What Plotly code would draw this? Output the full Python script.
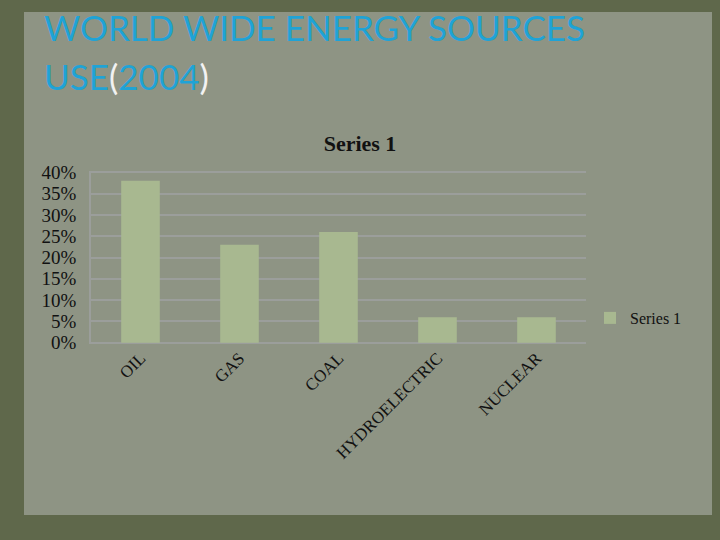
import plotly.graph_objects as go

categories = ["OIL", "GAS", "COAL", "HYDROELECTRIC", "NUCLEAR"]
values = [0.38, 0.23, 0.26, 0.06, 0.06]
series_name = "Series 1"
title_line1 = "WORLD WIDE ENERGY SOURCES"
title_line2 = "USE(2004)"
y_ticks = [0, 0.05, 0.1, 0.15, 0.2, 0.25, 0.3, 0.35, 0.4]

W, H = 720, 540
L, R, T, B = 91, 134, 171, 196
pw, ph = W - L - R, H - T - B

def px_x(x):
    return (x - L) / pw

def px_y(y):
    return (H - B - y) / ph

fig = go.Figure()
fig.add_trace(go.Bar(
    x=categories, y=values, name=series_name,
    marker=dict(color="#a8b890", line=dict(width=0)),
    width=0.39, showlegend=True,
))

serif = "Liberation Serif, DejaVu Serif, serif"

fig.update_layout(
    width=W, height=H, autosize=False,
    margin=dict(l=L, r=R, t=T, b=B, pad=0),
    paper_bgcolor="#5f684b",
    plot_bgcolor="rgba(0,0,0,0)",
    font=dict(family=serif, color="#111111"),
    title=dict(text="<b>Series 1</b>", x=0.5, xref="container", xanchor="center",
               y=1 - 143 / H, yanchor="middle",
               font=dict(family=serif, size=22, color="#111111")),
    xaxis=dict(tickangle=-45, tickfont=dict(family=serif, size=17, color="#111111"),
               showgrid=False, showline=False, ticks="", zeroline=False),
    yaxis=dict(range=[-0.003, 0.403], tickvals=y_ticks,
               tickformat=".0%",
               tickfont=dict(family=serif, size=19, color="#111111"),
               showgrid=True, gridcolor="rgba(165,165,175,0.55)", gridwidth=1.5,
               showline=True, linecolor="rgba(165,165,175,0.55)", linewidth=1.5,
               zeroline=False, ticks="", ticklabelstandoff=9),
    legend=dict(x=px_x(590), y=px_y(318), xanchor="left", yanchor="middle",
                font=dict(family=serif, size=16, color="#111111"),
                bgcolor="rgba(0,0,0,0)", itemwidth=30),
    bargap=0.6,
)

# inner lighter paper
fig.add_shape(type="rect", xref="paper", yref="paper",
              x0=px_x(24), x1=px_x(712), y0=px_y(515), y1=px_y(12),
              fillcolor="#8e9484", line=dict(width=0), layer="below")

title_font = dict(family="Lato, Open Sans, sans-serif", size=35, color="#1fa3d6")
fig.add_annotation(
    xref="paper", yref="paper", x=px_x(42), y=px_y(4), xanchor="left", yanchor="top",
    align="left", showarrow=False, text=title_line1, font=title_font,
)
fig.add_annotation(
    xref="paper", yref="paper", x=px_x(42), y=px_y(53), xanchor="left", yanchor="top",
    align="left", showarrow=False,
    text=title_line2.replace("(", "<span style='color:#f2f2f2'>(</span>")
                    .replace(")", "<span style='color:#f2f2f2'>)</span>"),
    font=title_font,
)

fig.write_html("out.html", config={"displayModeBar": False},
               post_script="document.body.style.margin='0px';")
